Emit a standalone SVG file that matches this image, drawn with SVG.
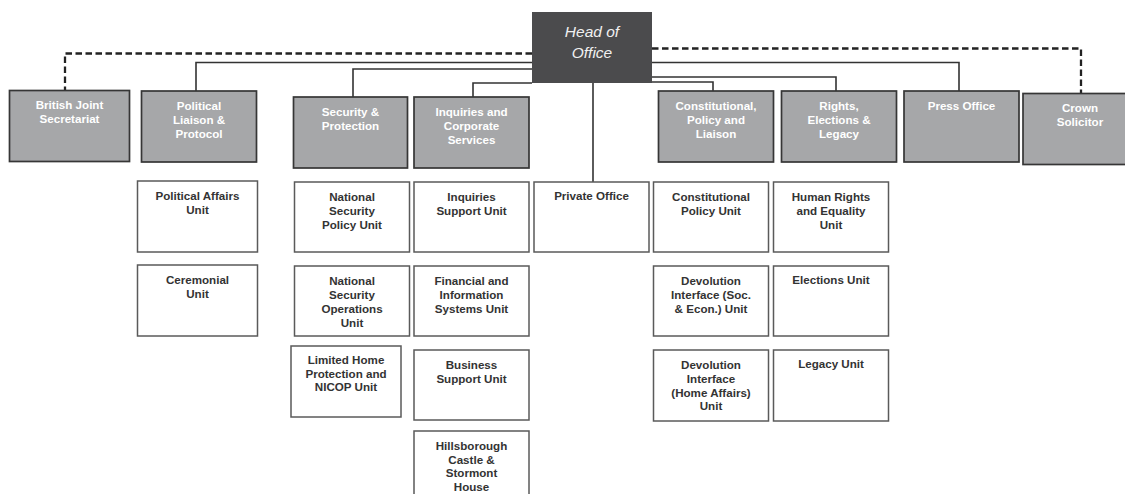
<svg xmlns="http://www.w3.org/2000/svg" width="1125" height="494" viewBox="0 0 1125 494">
<style>
.g rect{fill:#a6a7a9;stroke:#363636;stroke-width:1.7}
.w rect{fill:#fff;stroke:#5a5a5a;stroke-width:1.5}
.g text{fill:#fff;font-family:"Liberation Sans",Arial,sans-serif;font-weight:bold;font-size:11.6px;text-anchor:middle}
.w text{fill:#333;font-family:"Liberation Sans",Arial,sans-serif;font-weight:bold;font-size:11.6px;text-anchor:middle}
.sol{fill:none;stroke:#333;stroke-width:1.6}
.dash{fill:none;stroke:#222;stroke-width:2.3;stroke-dasharray:6.5 3.5}
</style>
<rect width="1125" height="494" fill="#fff"/>
<g id="connectors">
<path class="dash" d="M532,53.5 H65 V90"/>
<path class="dash" d="M652,48.5 H1081 V93"/>
<path class="sol" d="M532,62.5 H196 V91"/>
<path class="sol" d="M532,69 H353 V97"/>
<path class="sol" d="M532,83 H473 V97"/>
<path class="sol" d="M652,62.5 H959 V91"/>
<path class="sol" d="M652,77 H836 V91"/>
<path class="sol" d="M652,82 H713 V91"/>
<path class="sol" d="M593,83 V182"/>
</g>
<g id="head">
<rect x="532" y="12" width="120" height="71" fill="#4b4b4d"/>
<text x="592" y="37" fill="#f0f0f0" font-family="'Liberation Sans',Arial,sans-serif" font-style="italic" font-size="15.5" text-anchor="middle">Head of</text>
<text x="592" y="58" fill="#f0f0f0" font-family="'Liberation Sans',Arial,sans-serif" font-style="italic" font-size="15.5" text-anchor="middle">Office</text>
</g>
<g id="bjs" class="g"><rect x="9.5" y="90.5" width="120" height="71"/><text x="69.5" y="109">British Joint</text><text x="69.5" y="123">Secretariat</text></g>
<g id="plp" class="g"><rect x="141.5" y="91" width="115" height="71"/><text x="199" y="110">Political</text><text x="199" y="124">Liaison &amp;</text><text x="199" y="138">Protocol</text></g>
<g id="sp" class="g"><rect x="293.5" y="97" width="114" height="71"/><text x="350.5" y="116">Security &amp;</text><text x="350.5" y="130">Protection</text></g>
<g id="ics" class="g"><rect x="414" y="97" width="115" height="71"/><text x="471.5" y="116">Inquiries and</text><text x="471.5" y="130">Corporate</text><text x="471.5" y="144">Services</text></g>
<g id="cpl" class="g"><rect x="658.5" y="91" width="115" height="71"/><text x="716" y="110">Constitutional,</text><text x="716" y="124">Policy and</text><text x="716" y="138">Liaison</text></g>
<g id="rel" class="g"><rect x="781.5" y="91" width="115" height="71"/><text x="839" y="110">Rights,</text><text x="839" y="124">Elections &amp;</text><text x="839" y="138">Legacy</text></g>
<g id="press" class="g"><rect x="904" y="91" width="115" height="71"/><text x="961.5" y="110">Press Office</text></g>
<g id="crown" class="g"><rect x="1023" y="93.5" width="120" height="71"/><text x="1080" y="112">Crown</text><text x="1080" y="126">Solicitor</text></g>

<g id="pau" class="w"><rect x="137.5" y="181" width="120" height="71"/><text x="197.5" y="200">Political Affairs</text><text x="197.5" y="214">Unit</text></g>
<g id="cer" class="w"><rect x="137.5" y="265" width="120" height="71"/><text x="197.5" y="284">Ceremonial</text><text x="197.5" y="298">Unit</text></g>
<g id="nspu" class="w"><rect x="294.5" y="182" width="115" height="70"/><text x="352" y="201">National</text><text x="352" y="215">Security</text><text x="352" y="229">Policy Unit</text></g>
<g id="nsou" class="w"><rect x="294.5" y="266" width="115" height="70"/><text x="352" y="285">National</text><text x="352" y="299">Security</text><text x="352" y="313">Operations</text><text x="352" y="327">Unit</text></g>
<g id="lhp" class="w"><rect x="291" y="346" width="110" height="71"/><text x="346" y="364">Limited Home</text><text x="346" y="377.5">Protection and</text><text x="346" y="391">NICOP Unit</text></g>
<g id="isu" class="w"><rect x="414" y="182" width="115" height="70"/><text x="471.5" y="201">Inquiries</text><text x="471.5" y="215">Support Unit</text></g>
<g id="fis" class="w"><rect x="414" y="266" width="115" height="70"/><text x="471.5" y="285">Financial and</text><text x="471.5" y="299">Information</text><text x="471.5" y="313">Systems Unit</text></g>
<g id="bsu" class="w"><rect x="414" y="350" width="115" height="70"/><text x="471.5" y="369">Business</text><text x="471.5" y="383">Support Unit</text></g>
<g id="hcs" class="w"><rect x="414" y="431" width="115" height="70"/><text x="471.5" y="450">Hillsborough</text><text x="471.5" y="463.5">Castle &amp;</text><text x="471.5" y="477">Stormont</text><text x="471.5" y="490.5">House</text></g>
<g id="po" class="w"><rect x="534" y="182" width="115" height="70"/><text x="591.5" y="200">Private Office</text></g>
<g id="cpu" class="w"><rect x="653.5" y="182" width="115" height="70"/><text x="711" y="201">Constitutional</text><text x="711" y="215">Policy Unit</text></g>
<g id="dise" class="w"><rect x="653.5" y="266" width="115" height="70"/><text x="711" y="285">Devolution</text><text x="711" y="299">Interface (Soc.</text><text x="711" y="313">&amp; Econ.) Unit</text></g>
<g id="diha" class="w"><rect x="653.5" y="350" width="115" height="71"/><text x="711" y="369">Devolution</text><text x="711" y="383">Interface</text><text x="711" y="396.5">(Home Affairs)</text><text x="711" y="410">Unit</text></g>
<g id="hre" class="w"><rect x="773.5" y="182" width="115" height="70"/><text x="831" y="201">Human Rights</text><text x="831" y="215">and Equality</text><text x="831" y="229">Unit</text></g>
<g id="eu" class="w"><rect x="773.5" y="266" width="115" height="70"/><text x="831" y="284">Elections Unit</text></g>
<g id="lu" class="w"><rect x="773.5" y="350" width="115" height="71"/><text x="831" y="368">Legacy Unit</text></g>
</svg>
